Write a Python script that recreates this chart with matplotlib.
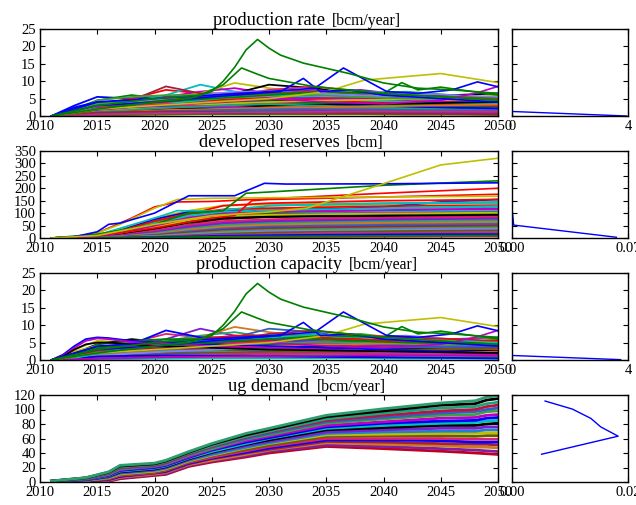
import matplotlib
matplotlib.use("Agg")
import matplotlib.pyplot as plt

# fonts / tick style close to the old matplotlib look
plt.rcParams["font.family"] = "serif"
plt.rcParams["font.serif"] = ["Liberation Serif", "DejaVu Serif"]
plt.rcParams["font.size"] = 10.5
plt.rcParams["xtick.direction"] = "in"
plt.rcParams["ytick.direction"] = "in"
plt.rcParams["xtick.top"] = True
plt.rcParams["ytick.right"] = True
plt.rcParams["xtick.major.pad"] = 3
plt.rcParams["ytick.major.pad"] = 3
plt.rcParams["axes.linewidth"] = 1.0


# ---------------- DATA ----------------
year_ticks = [2010, 2015, 2020, 2025, 2030, 2035, 2040, 2045, 2050]

# production rate [bcm/year], bulk of the fields
rate_years = [2011, 2013, 2015, 2018, 2021, 2024, 2027, 2030, 2034, 2038, 2042, 2046, 2050]
rate_bulk = [
    [0, 3.0, 5.5, 5.0, 5.5, 6.0, 5.5, 5.0, 4.5, 4.0, 3.5, 3.0, 2.5],
    [0, 2.0, 4.5, 6.0, 5.0, 4.5, 4.0, 3.5, 3.0, 2.5, 2.0, 1.5, 1.2],
    [0, 1.5, 3.5, 5.0, 7.5, 6.5, 6.0, 5.0, 4.0, 3.5, 3.0, 2.5, 2.0],
    [0, 1.0, 2.5, 4.0, 6.0, 9.0, 7.0, 6.0, 5.0, 4.5, 4.0, 3.5, 3.0],
    [0, 0.5, 2.0, 3.5, 5.5, 7.0, 8.0, 6.5, 5.5, 5.0, 4.5, 4.0, 3.5],
    [0, 0.5, 1.5, 3.0, 5.0, 6.5, 9.5, 8.0, 6.5, 5.0, 4.0, 3.0, 2.5],
    [0, 1.0, 2.5, 3.5, 4.5, 5.5, 6.5, 9.0, 8.0, 6.0, 5.0, 4.5, 4.0],
    [0, 0.3, 1.0, 2.0, 3.5, 5.0, 6.0, 7.5, 8.5, 7.0, 5.5, 5.0, 4.5],
    [0, 0.5, 1.5, 2.5, 3.5, 4.5, 5.5, 6.5, 7.0, 7.5, 6.0, 5.0, 4.0],
    [0, 0.2, 0.8, 1.5, 2.5, 3.5, 4.5, 5.5, 6.0, 6.5, 7.0, 6.0, 5.0],
    [0, 1.5, 3.0, 4.0, 4.0, 3.5, 3.0, 2.5, 2.0, 1.8, 1.5, 1.2, 1.0],
    [0, 0.8, 2.0, 3.0, 3.5, 4.0, 4.5, 4.0, 3.5, 3.0, 2.5, 2.0, 1.5],
    [0, 0.5, 1.2, 2.0, 2.5, 3.0, 3.5, 4.0, 4.5, 4.0, 3.5, 3.0, 2.5],
    [0, 0.3, 0.8, 1.5, 2.0, 2.5, 3.0, 3.5, 3.5, 3.5, 3.0, 2.8, 2.5],
    [0, 0.2, 0.5, 1.0, 1.5, 2.0, 2.5, 3.0, 3.0, 2.8, 2.5, 2.2, 2.0],
    [0, 0.3, 0.7, 1.0, 1.2, 1.5, 1.8, 2.0, 2.2, 2.0, 1.8, 1.5, 1.2],
    [0, 0.2, 0.5, 0.8, 1.0, 1.2, 1.3, 1.5, 1.5, 1.4, 1.3, 1.2, 1.0],
    [0, 0.1, 0.3, 0.5, 0.6, 0.7, 0.8, 0.9, 1.0, 1.0, 0.9, 0.8, 0.7],
    [0, 1.0, 2.5, 3.0, 2.5, 2.0, 1.8, 1.5, 1.2, 1.0, 0.8, 0.6, 0.5],
    [0, 0.5, 1.5, 2.5, 3.0, 3.0, 2.8, 2.5, 2.2, 2.0, 1.8, 1.5, 1.2],
    [0, 0.4, 1.0, 2.0, 3.0, 4.0, 5.0, 5.5, 6.5, 5.5, 5.0, 4.5, 4.0],
    [0, 0.3, 1.0, 2.0, 3.5, 5.0, 6.5, 7.0, 7.5, 6.0, 5.0, 4.0, 3.5],
    [0, 0.3, 0.8, 1.5, 2.5, 3.5, 4.5, 5.0, 5.5, 5.5, 5.0, 4.5, 6.0],
    [0, 0.2, 0.6, 1.2, 2.0, 3.0, 4.0, 4.5, 4.0, 5.0, 5.5, 6.0, 6.5],
    [0, 0.5, 1.0, 1.5, 2.0, 2.5, 3.0, 3.5, 4.0, 4.5, 4.5, 4.5, 5.0],
    [0, 0.3, 0.6, 1.0, 1.5, 2.0, 2.5, 3.0, 3.5, 3.5, 3.5, 3.5, 3.5],
    [0, 0.6, 1.8, 2.2, 2.6, 3.2, 3.8, 4.2, 3.8, 3.2, 2.6, 2.2, 1.8],
    [0, 0.4, 1.4, 1.8, 2.2, 2.6, 2.8, 2.6, 2.4, 2.2, 2.0, 1.8, 1.5],
    [0, 0.2, 0.4, 0.7, 0.9, 1.1, 1.3, 1.6, 1.8, 1.9, 2.0, 2.0, 2.0],
    [0, 0.8, 2.2, 4.5, 8.5, 6.5, 6.5, 6.0, 5.0, 4.0, 3.5, 3.0, 2.5],
    [0, 1.2, 4.5, 5.5, 6.0, 6.0, 5.5, 5.0, 5.0, 5.5, 6.0, 5.0, 4.5],
    [0, 0.3, 0.9, 1.8, 2.8, 3.8, 4.8, 5.8, 6.8, 7.0, 6.5, 6.0, 5.5],
    [0, 0.1, 0.2, 0.3, 0.4, 0.5, 0.5, 0.5, 0.5, 0.5, 0.4, 0.4, 0.3],
    [0, 0.2, 0.5, 1.5, 2.0, 2.0, 2.2, 2.2, 2.5, 2.5, 2.5, 2.5, 2.5],
    [0, 2.5, 4.0, 4.5, 4.0, 3.8, 3.5, 3.2, 3.0, 2.8, 2.6, 2.4, 2.2],
    [0, 1.8, 3.8, 4.2, 4.5, 4.8, 4.5, 4.2, 3.8, 3.5, 3.2, 3.0, 2.8],
    [0, 1.0, 3.0, 3.5, 3.8, 4.2, 4.8, 5.2, 4.8, 4.2, 3.8, 3.4, 3.0],
    [0, 0.8, 2.0, 2.8, 3.5, 4.5, 5.5, 6.0, 5.5, 4.5, 4.0, 3.8, 3.6],
    [0, 0.6, 1.6, 2.4, 3.0, 3.6, 4.2, 4.8, 5.2, 5.0, 4.6, 4.2, 4.0],
    [0, 0.4, 1.2, 2.0, 2.6, 3.2, 3.6, 4.0, 4.4, 4.6, 4.8, 4.6, 4.4],
    [0, 0.3, 0.8, 1.4, 1.8, 2.2, 2.6, 3.0, 3.2, 3.4, 3.6, 3.8, 4.0],
    [0, 1.2, 2.6, 3.2, 3.4, 3.0, 2.6, 2.2, 1.8, 1.5, 1.2, 1.0, 0.8],
    [0, 0.9, 2.2, 2.6, 2.8, 2.6, 2.4, 2.0, 1.7, 1.4, 1.1, 0.9, 0.7],
    [0, 0.5, 1.2, 1.8, 2.4, 2.8, 3.2, 3.4, 3.0, 2.6, 2.2, 1.8, 1.4],
    [0, 0.3, 0.9, 1.3, 1.7, 1.9, 2.1, 2.3, 2.5, 2.7, 2.9, 3.1, 3.3],
    [0, 0.2, 0.6, 1.0, 1.4, 1.6, 1.8, 1.9, 1.9, 1.8, 1.7, 1.6, 1.5],
    [0, 0.4, 1.0, 1.2, 1.3, 1.2, 1.1, 1.0, 0.9, 0.8, 0.7, 0.6, 0.5],
    [0, 1.5, 3.5, 4.5, 5.0, 5.5, 6.0, 6.5, 6.0, 5.5, 5.0, 4.8, 4.5],
    [0, 1.0, 3.0, 4.0, 5.0, 6.0, 7.0, 7.0, 6.5, 6.0, 5.5, 5.0, 5.5],
    [0, 0.5, 2.0, 3.5, 4.5, 5.5, 6.0, 6.5, 7.0, 6.5, 6.0, 5.5, 5.0],
    [0, 0.2, 0.4, 0.6, 0.8, 0.9, 1.0, 1.1, 1.2, 1.3, 1.3, 1.3, 1.3],
]

# production rate, the few fields that stand out
rate_green_big_years = [2011, 2015, 2020, 2023, 2025, 2026, 2027, 2028, 2029, 2030, 2031, 2033, 2037, 2040, 2043, 2046, 2050]
rate_green_big = [0, 2, 4, 5, 7, 10, 14, 19, 22, 19.5, 17.5, 15.2, 12.2, 9.5, 8, 7.5, 6.5]
rate_green_2_years = [2011, 2015, 2020, 2024, 2026, 2027.6, 2029, 2030, 2034, 2037, 2040, 2045, 2050]
rate_green_2 = [0, 3, 5, 6, 9, 13.8, 12, 10.8, 8.4, 7.5, 6.5, 5.5, 4.5]
rate_blue_a_years = [2011, 2015, 2020, 2025, 2031, 2033, 2034.5, 2037, 2040, 2045, 2050]
rate_blue_a = [0, 3, 4, 5.5, 7, 10.8, 7, 7.5, 6, 5, 4]
rate_blue_b_years = [2011, 2015, 2020, 2025, 2030, 2034, 2036.5, 2040.3, 2043, 2046, 2048.2, 2050]
rate_blue_b = [0, 4, 5, 6, 7, 8, 13.8, 7, 6.5, 7.5, 9.8, 8.4]
rate_yellow_years = [2011, 2015, 2020, 2025, 2030, 2035, 2038.3, 2045, 2050]
rate_yellow = [0, 2, 3, 4, 5, 7, 10.3, 12.2, 9.6]
rate_green_3_years = [2011, 2015, 2020, 2025, 2030, 2035, 2040, 2041.6, 2043, 2045, 2050]
rate_green_3 = [0, 2, 4, 5, 6, 7, 6.5, 9.6, 7.5, 8.3, 6]
rate_magenta_years = [2011, 2015, 2020, 2025, 2030, 2035, 2040, 2045, 2048, 2050]
rate_magenta = [0, 2, 3, 4, 5, 4, 3.5, 4.5, 6.5, 8.5]

# production capacity: same fields as the rate plus the early hump
cap_hump_years = [2011, 2012, 2013, 2014, 2015, 2016, 2018, 2020, 2025, 2030, 2040, 2050]
cap_hump = [
    [0, 1.5, 4.0, 6.0, 6.5, 6.3, 5.5, 5.0, 4.5, 4.0, 3.0, 2.0],
    [0, 1.2, 3.5, 5.5, 6.2, 6.0, 5.2, 4.8, 4.0, 3.5, 2.5, 1.8],
    [0, 1.0, 3.0, 4.5, 5.0, 5.0, 4.5, 4.0, 3.5, 3.0, 2.5, 2.0],
]

# developed reserves [bcm]
res_years = [2011, 2013, 2015, 2017, 2020, 2023, 2026, 2030, 2035, 2040, 2045, 2050]
res_bulk = [
    [0, 3, 10, 25, 60, 95, 110, 115, 118, 120, 122, 125],
    [0, 2, 8, 20, 50, 80, 100, 105, 108, 110, 112, 115],
    [0, 3, 12, 35, 80, 110, 130, 135, 138, 140, 142, 145],
    [0, 2, 6, 15, 40, 70, 85, 90, 92, 95, 98, 100],
    [0, 1, 5, 12, 30, 55, 75, 85, 90, 92, 94, 95],
    [0, 1, 4, 10, 25, 45, 60, 70, 75, 78, 80, 82],
    [0, 1, 3, 8, 20, 40, 55, 65, 70, 72, 75, 78],
    [0, 1, 3, 7, 18, 35, 50, 58, 62, 65, 68, 70],
    [0, 1, 2, 6, 15, 30, 45, 52, 56, 58, 60, 62],
    [0, 0.5, 2, 5, 12, 25, 38, 45, 50, 52, 54, 55],
    [0, 0.5, 2, 4, 10, 20, 30, 38, 42, 45, 47, 48],
    [0, 0.5, 1, 3, 8, 15, 24, 30, 34, 37, 39, 40],
    [0, 0.3, 1, 3, 6, 12, 18, 24, 28, 30, 32, 33],
    [0, 0.3, 1, 2, 5, 10, 14, 18, 21, 23, 25, 26],
    [0, 0.2, 0.5, 1.5, 4, 7, 10, 13, 15, 17, 18, 19],
    [0, 0.2, 0.5, 1, 3, 5, 7, 9, 10, 11, 12, 12],
    [0, 0.1, 0.3, 0.7, 1.5, 2.5, 3.5, 4.5, 5, 5.5, 6, 6],
    [0, 2, 8, 25, 55, 85, 95, 100, 102, 105, 108, 110],
    [0, 1.5, 6, 18, 45, 75, 90, 95, 98, 100, 102, 105],
    [0, 3, 12, 30, 70, 100, 110, 112, 130, 135, 138, 140],
    [0, 1, 4, 12, 35, 60, 80, 88, 92, 96, 98, 100],
    [0, 1, 3, 9, 25, 50, 68, 75, 80, 85, 88, 90],
    [0, 1, 3, 8, 22, 42, 58, 64, 68, 70, 72, 75],
    [0, 0.5, 2, 6, 16, 32, 48, 55, 60, 63, 65, 66],
    [0, 0.5, 2, 5, 13, 28, 40, 48, 52, 55, 57, 58],
    [0, 0.5, 1.5, 4, 10, 20, 32, 40, 44, 47, 49, 50],
    [0, 0.3, 1, 3, 8, 16, 26, 33, 37, 40, 42, 44],
    [0, 0.3, 1, 2, 6, 12, 20, 26, 30, 32, 34, 36],
    [0, 0.2, 0.6, 2, 4, 8, 13, 17, 20, 22, 23, 24],
    [0, 0.2, 0.5, 1, 2.5, 5, 8, 11, 13, 15, 16, 16],
    [0, 0.1, 0.3, 0.5, 1, 2, 3, 4, 5, 6, 7, 8],
    [0, 2, 10, 30, 75, 105, 108, 110, 115, 125, 145, 155],
    [0, 2, 10, 28, 65, 100, 100, 100, 95, 90, 95, 100],
    [0, 2, 8, 22, 60, 95, 130, 140, 145, 150, 152, 155],
    [0, 1, 4, 10, 30, 60, 90, 130, 135, 138, 140, 142],
    [0, 0.5, 2, 6, 15, 40, 60, 70, 75, 80, 85, 88],
    [0, 1.5, 6, 16, 42, 72, 88, 93, 96, 98, 100, 102],
    [0, 1, 5, 14, 36, 62, 78, 84, 87, 89, 91, 93],
    [0, 1, 4, 11, 30, 52, 66, 74, 78, 81, 83, 85],
    [0, 0.8, 3, 9, 24, 46, 60, 67, 71, 74, 76, 78],
    [0, 0.6, 2.5, 7, 19, 38, 52, 60, 64, 67, 69, 71],
    [0, 0.5, 2, 6, 16, 33, 46, 54, 58, 61, 63, 65],
    [0, 0.4, 1.5, 5, 13, 27, 38, 46, 50, 53, 55, 57],
    [0, 0.3, 1.2, 4, 11, 22, 32, 39, 43, 46, 48, 50],
    [0, 0.3, 1, 3, 9, 18, 27, 33, 36, 39, 41, 43],
    [0, 0.2, 0.8, 2.5, 7, 14, 22, 27, 30, 33, 35, 37],
    [0, 0.2, 0.6, 2, 5, 11, 17, 22, 25, 27, 29, 30],
    [0, 0.1, 0.5, 1.5, 4, 8, 12, 16, 19, 21, 22, 23],
    [0, 0.1, 0.4, 1, 3, 6, 9, 11, 13, 14, 15, 15],
    [0, 0.1, 0.2, 0.6, 1.5, 3, 5, 6, 7, 8, 9, 10],
    [0, 2.5, 10, 28, 68, 98, 115, 120, 124, 128, 130, 132],
    [0, 2, 8, 24, 60, 90, 105, 110, 115, 120, 124, 128],
    [0, 1.5, 7, 20, 52, 82, 98, 104, 108, 112, 116, 118],
]
res_blue_years = [2011, 2013, 2015, 2016, 2017, 2020, 2023, 2027, 2029.6, 2031.5, 2040, 2050]
res_blue = [0, 5, 25, 55, 60, 100, 170, 170, 220, 217, 218, 222]
res_yellow_a_years = [2011, 2013, 2015, 2017, 2020, 2022, 2025, 2030, 2040, 2050]
res_yellow_a = [0, 5, 20, 55, 120, 155, 160, 162, 165, 168]
res_yellow_b_years = [2011, 2015, 2020, 2025, 2030, 2033.3, 2039.7, 2045, 2050]
res_yellow_b = [0, 10, 55, 90, 105, 120, 214, 294, 321]
res_green_years = [2011, 2015, 2020, 2023, 2026, 2028, 2030, 2040, 2050]
res_green = [0, 15, 55, 100, 110, 180, 185, 212, 230]
res_red_a_years = [2011, 2013, 2015, 2018, 2020, 2022, 2025, 2030, 2040, 2050]
res_red_a = [0, 5, 20, 80, 125, 145, 147, 158, 180, 200]
res_red_b_years = [2011, 2015, 2020, 2025, 2027, 2028.5, 2030, 2040, 2050]
res_red_b = [0, 10, 40, 80, 90, 150, 155, 165, 176]
res_cyan_years = [2011, 2015, 2020, 2022, 2025, 2030, 2040, 2050]
res_cyan = [0, 12, 80, 110, 108, 130, 140, 145]

# ug demand [bcm/year], top line first
dem_years = [2011, 2014, 2016, 2017, 2020, 2021, 2023, 2025, 2028, 2030, 2035, 2040, 2045, 2048, 2049, 2050]
dem_lines = [
    [1.4, 6.0, 14.0, 23, 26, 30, 42, 53, 67, 74, 92, 101, 109, 112, 117, 119],
    [1.3, 5.7, 13.4, 22, 25, 29, 41, 52, 65, 72, 90, 98, 106, 108, 113, 115],
    [1.2, 5.4, 12.6, 21, 24, 28, 40, 50, 63, 70, 87, 95, 102, 104, 108, 110],
    [1.2, 5.1, 11.9, 20, 23, 27, 39, 49, 62, 69, 85, 92, 98, 100, 104, 106],
    [1.1, 4.8, 11.3, 19, 22, 26, 38, 48, 60, 67, 83, 89, 95, 97, 100, 102],
    [1.0, 4.5, 10.6, 18, 22, 25, 37, 46, 59, 65, 81, 87, 92, 93, 97, 98],
    [1.0, 4.2, 9.8, 17, 21, 24, 35, 45, 57, 63, 78, 83, 88, 89, 92, 93],
    [0.9, 3.9, 9.2, 16, 20, 23, 34, 44, 55, 61, 76, 81, 84, 85, 88, 89],
    [0.8, 3.6, 8.5, 15, 19, 22, 33, 42, 53, 60, 74, 78, 81, 82, 84, 85],
    [0.7, 3.3, 7.9, 14, 18, 21, 32, 41, 52, 58, 72, 75, 78, 78, 80, 81],
    [0.7, 3.0, 7.1, 13, 17, 20, 31, 40, 50, 56, 69, 72, 74, 74, 76, 76],
    [0.6, 2.7, 6.5, 12, 16, 19, 30, 38, 48, 54, 67, 69, 70, 70, 72, 72],
    [0.5, 2.4, 5.8, 11, 15, 18, 29, 37, 47, 53, 65, 66, 67, 67, 68, 68],
    [0.4, 2.1, 5.2, 10, 14, 17, 28, 36, 45, 51, 63, 64, 64, 63, 64, 64],
    [0.4, 1.8, 4.4, 9, 13, 16, 27, 34, 43, 49, 60, 60, 60, 59, 59, 59],
    [0.3, 1.5, 3.7, 8, 13, 15, 26, 33, 41, 47, 58, 58, 57, 55, 55, 55],
    [0.2, 1.2, 3.1, 7.5, 12, 14, 25, 32, 40, 45, 56, 55, 53, 52, 52, 51],
    [0.2, 0.9, 2.4, 6.5, 11, 13, 24, 30, 38, 44, 54, 52, 50, 48, 48, 47],
    [0.1, 0.6, 1.7, 5.4, 10, 11.5, 22.5, 29, 36, 42, 51, 49, 46, 44, 43, 42],
    [0.0, 0.3, 1.0, 4.5, 9, 10.5, 21.5, 27.5, 34.5, 40, 49, 46, 42.5, 40, 39, 38],
]

# side panels: distribution of the 2050 values (density on x, value on y)
side_rate_x = [0.0, 3.95]
side_rate_y = [1.3, 0.0]
side_res_x = [0.0003, 0.001, 0.063]
side_res_y = [102, 52, 3]
side_cap_x = [0.0, 3.75]
side_cap_y = [1.3, 0.1]
side_dem_x = [0.0057, 0.0104, 0.0136, 0.0153, 0.0183, 0.0051]
side_dem_y = [111.7, 100.6, 87.7, 76.0, 63.2, 38.3]


# ---------------- PLOT ----------------
palette = ["#0000ff", "#008000", "#ff0000", "#00bfbf", "#bf00bf", "#bfbf00",
           "#000000", "#e0206a", "#7a1fd0", "#1fa37a", "#d07a1f", "#3060c0",
           "#a02040", "#40a040", "#8080ff", "#606000", "#c03080"]
dem_palette = ["#2e9e6e", "#000000", "#1fa37a", "#c01040", "#3060c0", "#40a040",
               "#bf00bf", "#0000ff", "#00bfbf", "#000000", "#7a1fd0", "#1f80d0",
               "#bfbf00", "#606000", "#e0206a", "#0000ff", "#a02040", "#d07a1f",
               "#8020a0", "#c00020"]

fig = plt.figure(figsize=(6.36, 5.05), dpi=100)

main_left, main_w = 40 / 636, 458 / 636
side_left, side_w = 512 / 636, 116 / 636
row_h = 87 / 505
row_bottoms = [1 - 116 / 505, 1 - 238 / 505, 1 - 360 / 505, 1 - 482 / 505]

titles = ["production rate", "developed reserves", "production capacity", "ug demand"]
units = ["[bcm/year]", "[bcm]", "[bcm/year]", "[bcm/year]"]
ylims = [25, 350, 25, 120]
ysteps = [5, 50, 5, 20]
side_xmax = [4, 0.07, 4, 0.02]
side_xlabels = [["0", "4"], ["0.00", "0.07"], ["0", "4"], ["0.00", "0.02"]]

main_axes = []
side_axes = []
for i in range(4):
    ax = fig.add_axes([main_left, row_bottoms[i], main_w, row_h])
    sx = fig.add_axes([side_left, row_bottoms[i], side_w, row_h], sharey=ax)
    main_axes.append(ax)
    side_axes.append(sx)


def draw_bulk(ax, years, lines, colors, lw=1.3, start=0):
    for k, vals in enumerate(lines):
        ax.plot(years, vals, color=colors[(k + start) % len(colors)], lw=lw)


def draw_rate_outliers(ax):
    ax.plot(rate_magenta_years, rate_magenta, color="#bf00bf", lw=1.2)
    ax.plot(rate_green_3_years, rate_green_3, color="#008000", lw=1.2)
    ax.plot(rate_yellow_years, rate_yellow, color="#bfbf00", lw=1.2)
    ax.plot(rate_blue_a_years, rate_blue_a, color="#0000ff", lw=1.2)
    ax.plot(rate_blue_b_years, rate_blue_b, color="#0000ff", lw=1.2)
    ax.plot(rate_green_2_years, rate_green_2, color="#008000", lw=1.2)
    ax.plot(rate_green_big_years, rate_green_big, color="#008000", lw=1.2)


# row 1: production rate
ax = main_axes[0]
draw_bulk(ax, rate_years, rate_bulk, palette)
draw_rate_outliers(ax)

# row 2: developed reserves
ax = main_axes[1]
draw_bulk(ax, res_years, res_bulk, palette, start=3)
ax.plot(res_cyan_years, res_cyan, color="#00bfbf", lw=1.2)
ax.plot(res_red_b_years, res_red_b, color="#ff0000", lw=1.2)
ax.plot(res_red_a_years, res_red_a, color="#ff0000", lw=1.2)
ax.plot(res_yellow_a_years, res_yellow_a, color="#bfbf00", lw=1.2)
ax.plot(res_green_years, res_green, color="#008000", lw=1.2)
ax.plot(res_blue_years, res_blue, color="#0000ff", lw=1.2)
ax.plot(res_yellow_b_years, res_yellow_b, color="#bfbf00", lw=1.2)

# row 3: production capacity
ax = main_axes[2]
draw_bulk(ax, rate_years, rate_bulk, palette, start=5)
draw_bulk(ax, cap_hump_years, cap_hump, ["#0000ff", "#bf00bf", "#000000"])
draw_rate_outliers(ax)

# row 4: ug demand (bottom line drawn first, top line last)
ax = main_axes[3]
for k in range(len(dem_lines) - 1, -1, -1):
    ax.plot(dem_years, dem_lines[k], color=dem_palette[k], lw=2.0)

# side panels
side_data = [(side_rate_x, side_rate_y), (side_res_x, side_res_y),
             (side_cap_x, side_cap_y), (side_dem_x, side_dem_y)]
for i in range(4):
    sx = side_axes[i]
    sx.plot(side_data[i][0], side_data[i][1], color="#0000ff", lw=1.0)
    sx.set_xlim(0, side_xmax[i])
    sx.set_xticks([0, side_xmax[i]])
    sx.set_xticklabels(side_xlabels[i])
    sx.tick_params(labelleft=False)

# axes formatting + titles
for i in range(4):
    ax = main_axes[i]
    ax.set_xlim(2010, 2050)
    ax.set_xticks(year_ticks)
    ax.set_ylim(0, ylims[i])
    ax.set_yticks(range(0, ylims[i] + 1, ysteps[i]))
    ax.set_title(titles[i], fontsize=13.2, pad=3)
    ax.annotate(units[i], xy=(1, 0), xycoords=ax.title, xytext=(5, 0),
                textcoords="offset points", fontsize=11.3, va="bottom", ha="left")

plt.savefig("out.png", dpi=100)
